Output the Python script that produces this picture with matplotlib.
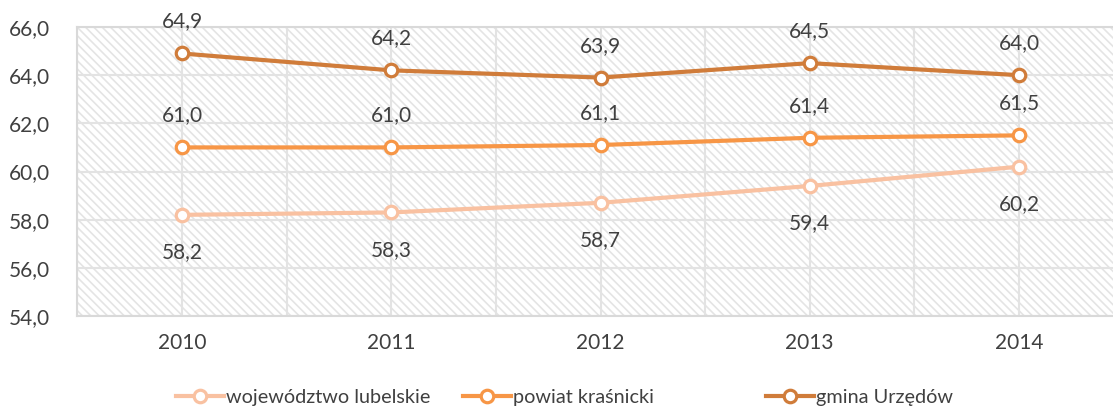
import matplotlib
matplotlib.use("Agg")
import matplotlib.pyplot as plt

# dane
lata = ["2010", "2011", "2012", "2013", "2014"]
wojewodztwo = [58.2, 58.3, 58.7, 59.4, 60.2]
powiat = [61.0, 61.0, 61.1, 61.4, 61.5]
gmina = [64.9, 64.2, 63.9, 64.5, 64.0]
nazwy = ["województwo lubelskie", "powiat kraśnicki", "gmina Urzędów"]
y_ticks = [54, 56, 58, 60, 62, 64, 66]

kolory = ["#f9c1a1", "#f79646", "#d07c3a"]
tekst = "#404040"
plt.rcParams["font.family"] = ["Lato", "DejaVu Sans"]
plt.rcParams["hatch.color"] = "#e4e4e4"
plt.rcParams["hatch.linewidth"] = 1.2

fig = plt.figure(figsize=(11.13, 4.12), dpi=100)
ax = fig.add_axes([77.4 / 1113, 96 / 412, 1046.2 / 1113, 289 / 412])

x = list(range(len(lata)))
ax.set_xlim(-0.5, len(lata) - 0.5)
ax.set_ylim(54, 66)

# tło w ukośne paski
ax.fill_between([-0.5, len(lata) - 0.5], 54, 66, facecolor="white",
                edgecolor="#e4e4e4", hatch="\\\\\\\\", linewidth=0, zorder=0)

# siatka
ax.set_yticks(y_ticks)
ax.set_yticklabels([f"{v:.1f}".replace(".", ",") for v in y_ticks])
ax.set_xticks(x)
ax.set_xticklabels(lata)
ax.set_xticks([i - 0.5 for i in range(len(lata) + 1)], minor=True)
ax.grid(True, which="major", color="#e3e3e3", linewidth=1.5, zorder=1)
ax.grid(True, which="minor", axis="x", color="#e3e3e3", linewidth=1.5, zorder=1)
ax.tick_params(which="both", length=0, labelsize=15, labelcolor=tekst)
ax.tick_params(axis="x", pad=12)
ax.tick_params(axis="y", pad=20)
for s in ax.spines.values():
    s.set_color("#d9d9d9")
    s.set_linewidth(1.5)

serie = [wojewodztwo, powiat, gmina]
przesuniecia = [-27, 23, 23]
linie = []
for dane, kolor, nazwa, dy in zip(serie, kolory, nazwy, przesuniecia):
    ln, = ax.plot(x, dane, color=kolor, linewidth=3, marker="o", markersize=9,
                  markerfacecolor="white", markeredgecolor=kolor, markeredgewidth=2.3,
                  label=nazwa, zorder=3, clip_on=False)
    linie.append(ln)
    for xi, v in zip(x, dane):
        ax.annotate(f"{v:.1f}".replace(".", ","), (xi, v), xytext=(0, dy),
                    textcoords="offset points", ha="center", va="center",
                    fontsize=15, color=tekst)

# legenda - trzy kolumny o równej szerokości
pozycje = [176, 463, 766]
for ln, px in zip(linie, pozycje):
    leg = fig.legend(handles=[ln], loc="center left",
                     bbox_to_anchor=(px / 1113, 15 / 412), frameon=False,
                     fontsize=14.3, handlelength=2.4, handletextpad=0.1,
                     borderpad=0, borderaxespad=0)
    for t in leg.get_texts():
        t.set_color(tekst)

fig.savefig("out.png", dpi=100)
